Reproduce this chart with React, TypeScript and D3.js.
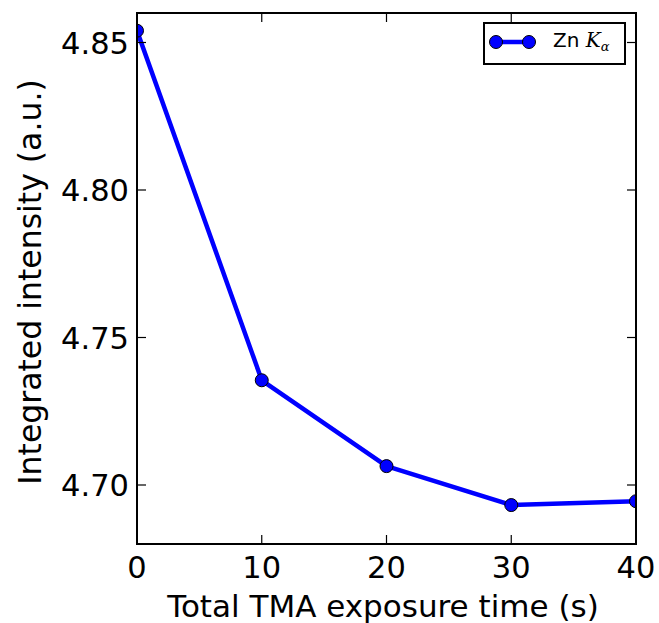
import React from "react";
import * as d3 from "d3";

const xValues = [0, 10, 20, 30, 40];
const yValues = [4.854, 4.7355, 4.7064, 4.6932, 4.6945];
const xTicks = [0, 10, 20, 30, 40];
const yTicks = [4.7, 4.75, 4.8, 4.85];
const xLabel = "Total TMA exposure time (s)";
const yLabel = "Integrated intensity (a.u.)";

export default function App() {
  const W = 659, H = 623;
  const L = 137, R = 636, T = 13, B = 544;
  const x = d3.scaleLinear().domain([0, 40]).range([L, R]);
  const y = d3.scaleLinear().domain([4.68, 4.86]).range([B, T]);
  const pts = xValues.map((v, i) => [x(v), y(yValues[i])] as [number, number]);
  const line = d3.line()(pts) || "";
  const font = "DejaVu Sans, sans-serif";
  return (
    <svg width={W} height={H} style={{ position: "absolute", left: 0, top: 0 }}>
      <rect width={W} height={H} fill="white" />
      <defs>
        <clipPath id="c">
          <rect x={L} y={T} width={R - L} height={B - T} />
        </clipPath>
      </defs>
      <g clipPath="url(#c)">
        <path d={line} fill="none" stroke="#0000ff" strokeWidth={4.5} strokeLinejoin="round" />
        {pts.map((p, i) => (
          <circle key={i} cx={p[0]} cy={p[1]} r={6.5} fill="#0000ff" stroke="black" strokeWidth={1} />
        ))}
      </g>
      {xTicks.map((t) => (
        <g key={"x" + t}>
          <line x1={x(t)} x2={x(t)} y1={B} y2={B - 9} stroke="black" strokeWidth={1.2} />
          <line x1={x(t)} x2={x(t)} y1={T} y2={T + 9} stroke="black" strokeWidth={1.2} />
          <text x={x(t)} y={578} textAnchor="middle" fontFamily={font} fontSize={30.5}>{t}</text>
        </g>
      ))}
      {yTicks.map((t) => (
        <g key={"y" + t}>
          <line x1={L} x2={L + 9} y1={y(t)} y2={y(t)} stroke="black" strokeWidth={1.2} />
          <line x1={R} x2={R - 9} y1={y(t)} y2={y(t)} stroke="black" strokeWidth={1.2} />
          <text x={L - 8} y={y(t) + 11} textAnchor="end" fontFamily={font} fontSize={30.5}>{t.toFixed(2)}</text>
        </g>
      ))}
      <rect x={L} y={T} width={R - L} height={B - T} fill="none" stroke="black" strokeWidth={2} />
      <text x={383} y={617} textAnchor="middle" fontFamily={font} fontSize={31}>{xLabel}</text>
      <text transform={`translate(41,282) rotate(-90)`} textAnchor="middle" fontFamily={font} fontSize={31.5}>{yLabel}</text>
      <g>
        <rect x={484} y={23} width={141} height={41} fill="white" stroke="black" strokeWidth={2} />
        <line x1={496} x2={529} y1={42} y2={42} stroke="#0000ff" strokeWidth={4.5} />
        <circle cx={496} cy={42} r={6.5} fill="#0000ff" stroke="black" strokeWidth={1} />
        <circle cx={529} cy={42} r={6.5} fill="#0000ff" stroke="black" strokeWidth={1} />
        <text x={553} y={47} fontFamily={font} fontSize={20}>Zn <tspan fontFamily="DejaVu Serif, serif" fontStyle="italic">K</tspan><tspan fontFamily="DejaVu Serif, serif" fontStyle="italic" fontSize={13} dy={4}>α</tspan></text>
      </g>
    </svg>
  );
}
